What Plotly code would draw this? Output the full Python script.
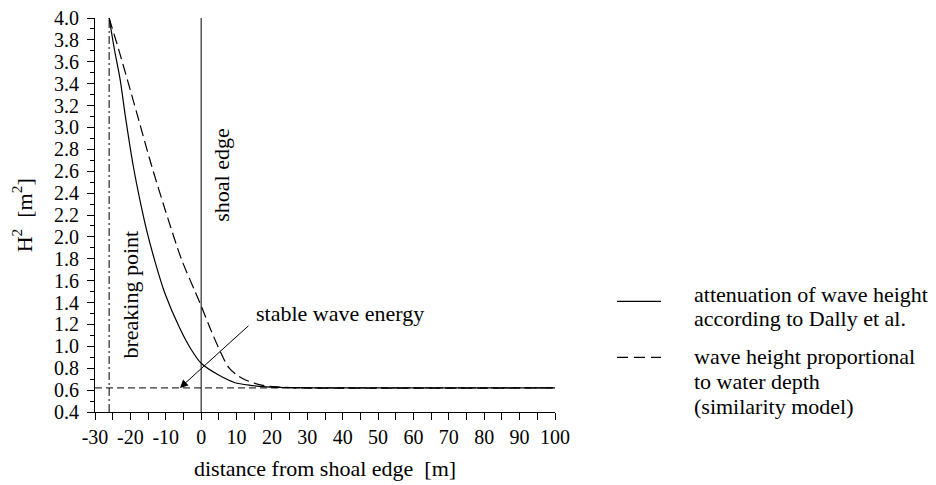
import plotly.graph_objects as go

# ---------------- data ----------------
DIST_DALLY = [-26, -24.5, -22.9, -21.5, -19.2, -17.0, -15.4, -13.0, -10.2, -6.0, -3.0, 0, 4.7, 9.4, 13.8, 18.5, 25, 32, 100]
H2_DALLY = [4.0, 3.71, 3.44, 3.12, 2.65, 2.29, 2.06, 1.77, 1.48, 1.162, 0.98, 0.845, 0.742, 0.67, 0.644, 0.63, 0.623, 0.62, 0.62]

DIST_SIMILARITY = [-26, -23.2, -20.8, -18.0, -14.0, -10.0, -5.5, -1.7, 0, 3.0, 5.3, 7.7, 10.0, 12.4, 17.1, 22, 28, 100]
H2_SIMILARITY = [4.0, 3.70, 3.43, 3.11, 2.65, 2.23, 1.79, 1.50, 1.37, 1.13, 0.96, 0.81, 0.74, 0.695, 0.645, 0.628, 0.62, 0.62]

BREAKING_POINT_X = -26
SHOAL_EDGE_X = 0
STABLE_H2 = 0.62

X_RANGE = [-30, 100]
Y_RANGE = [0.4, 4.0]

X_TICKS = list(range(-30, 101, 5))
X_TICK_LABELS = [str(v) if v % 10 == 0 else "" for v in X_TICKS]
Y_TICKS = [round(0.4 + 0.2 * i, 1) for i in range(19)]
Y_TICK_LABELS = [f"{v:.1f}" for v in Y_TICKS]
Y_MINOR_TICKS = [round(0.5 + 0.2 * i, 1) for i in range(18)]

LEGEND_SOLID_LINES = ["attenuation of wave height", "according to Dally et al."]
LEGEND_DASH_LINES = ["wave height proportional", "to water depth", "(similarity model)"]

FONT = "Liberation Serif"
FS = 22
FS_TICK = 20

fig = go.Figure()

# stable wave energy level
fig.add_trace(go.Scatter(x=X_RANGE, y=[STABLE_H2, STABLE_H2], mode="lines",
                         line=dict(color="black", width=1, dash="7px,4px"),
                         showlegend=False, hoverinfo="skip"))
# breaking point
fig.add_trace(go.Scatter(x=[BREAKING_POINT_X, BREAKING_POINT_X], y=Y_RANGE, mode="lines",
                         line=dict(color="black", width=1, dash="8px,3px,2px,3px"),
                         showlegend=False, hoverinfo="skip"))
# shoal edge
fig.add_trace(go.Scatter(x=[SHOAL_EDGE_X, SHOAL_EDGE_X], y=Y_RANGE, mode="lines",
                         line=dict(color="black", width=1),
                         showlegend=False, hoverinfo="skip"))
# similarity model
fig.add_trace(go.Scatter(x=DIST_SIMILARITY, y=H2_SIMILARITY, mode="lines",
                         line=dict(color="black", width=1.2, dash="11px,5px", shape="spline", smoothing=0.8),
                         showlegend=False))
# Dally et al.
fig.add_trace(go.Scatter(x=DIST_DALLY, y=H2_DALLY, mode="lines",
                         line=dict(color="black", width=1.2, shape="spline", smoothing=0.8),
                         showlegend=False))

tf = dict(family=FONT, size=FS, color="black")
tickf = dict(family=FONT, size=FS_TICK, color="black")
annotations = [
    dict(x=BREAKING_POINT_X, y=1.475, xref="x", yref="y", xshift=21, text="breaking point",
         textangle=-90, showarrow=False, font=tf, xanchor="center", yanchor="middle"),
    dict(x=SHOAL_EDGE_X, y=2.56, xref="x", yref="y", xshift=20, text="shoal edge",
         textangle=-90, showarrow=False, font=tf, xanchor="center", yanchor="middle"),
    dict(x=14.9, y=1.30, xref="x", yref="y", xanchor="left", yanchor="middle",
         text="stable wave energy", showarrow=False, font=tf),
    dict(x=-6, y=STABLE_H2, xref="x", yref="y", ax=13.8, ay=1.20, axref="x", ayref="y",
         text="", showarrow=True, arrowhead=2, arrowsize=1.6, arrowwidth=1, arrowcolor="black"),
    dict(x=-0.158, y=0.5, xref="paper", yref="paper", text="H<sup>2</sup>  [m<sup>2</sup>]",
         textangle=-90, showarrow=False, font=tf, xanchor="center", yanchor="middle"),
    dict(x=0.5, y=-0.143, xref="paper", yref="paper", text="distance from shoal edge  [m]",
         showarrow=False, font=tf, xanchor="center", yanchor="middle"),
]

legend_y_solid = [0.2985, 0.2376]
legend_y_dash = [0.1412, 0.0777, 0.0144]
for txt, yy in zip(LEGEND_SOLID_LINES + LEGEND_DASH_LINES, legend_y_solid + legend_y_dash):
    annotations.append(dict(x=1.2978, y=yy, xref="paper", yref="paper", xanchor="left", yanchor="middle",
                            text=txt, showarrow=False, font=tf))

shapes = [
    dict(type="line", xref="paper", yref="paper", x0=1.1348, x1=1.2304, y0=0.2808, y1=0.2808,
         line=dict(color="black", width=1.2)),
    dict(type="line", xref="paper", yref="paper", x0=1.1348, x1=1.2304, y0=0.1388, y1=0.1388,
         line=dict(color="black", width=1.2, dash="11px,6px")),
]

fig.update_layout(
    width=936, height=485,
    margin=dict(l=87, r=389, t=10, b=81, autoexpand=False),
    paper_bgcolor="white", plot_bgcolor="white",
    font=tf,
    annotations=annotations, shapes=shapes,
    showlegend=False,
    xaxis=dict(range=X_RANGE, showline=True, linecolor="black", linewidth=1,
               ticks="outside", ticklen=7, tickwidth=1, tickcolor="black",
               tickmode="array", tickvals=X_TICKS, ticktext=X_TICK_LABELS,
               showgrid=False, zeroline=False, tickfont=tickf, automargin=False,
               ticklabeloverflow="allow"),
    yaxis=dict(range=Y_RANGE, showline=True, linecolor="black", linewidth=1,
               ticks="outside", ticklen=7, tickwidth=1, tickcolor="black",
               tickmode="array", tickvals=Y_TICKS, ticktext=Y_TICK_LABELS,
               showgrid=False, zeroline=False, ticklabelstandoff=4, automargin=False,
               ticklabeloverflow="allow",
               minor=dict(tickmode="array", tickvals=Y_MINOR_TICKS, ticks="outside",
                          ticklen=4, tickwidth=1, tickcolor="black", showgrid=False),
               tickfont=tickf),
)

fig.write_html("out.html")
